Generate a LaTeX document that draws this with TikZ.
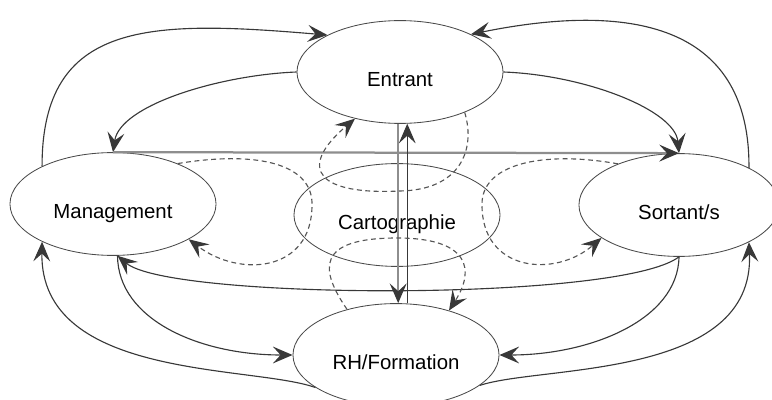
\documentclass[tikz,border=0pt]{standalone}
\usepackage{fontspec}
\setmainfont{Liberation Sans}
\usetikzlibrary{shapes.geometric, arrows.meta}
\definecolor{line-dark}{HTML}{383838}
\definecolor{line-grey}{HTML}{8E8E8E}
\definecolor{rim-grey}{HTML}{4A4A4A}

\begin{document}
\begin{tikzpicture}[x=0.025cm, y=-0.025cm,
        every node/.style={font=\fontsize{14.5}{16}\selectfont},
        bubble/.style={ellipse, draw=rim-grey, line width=0.6pt, fill=white,
            minimum width=5.15cm, minimum height=2.57cm, inner sep=0pt,
            text height=21pt, text depth=0pt},
        flow/.style={draw=line-dark, line width=0.8pt,
            -{Stealth[length=14pt, width=12pt, inset=5.5pt, color=line-dark]}},
        dashflow/.style={flow, draw=line-dark!85, dash pattern=on 3.5pt off 2.5pt},
        bar/.style={flow, draw=line-grey, line width=1.6pt}]
      \useasboundingbox (0,0) rectangle (772,400);
      \clip (0,0) rectangle (772,400);
      \node[bubble] (ENT) at (400,72) {Entrant};
      \node[bubble] (MAN) at (113,204) {Management};
      \node[bubble] (CAR) at (397,215) {Cartographie};
      \node[bubble, minimum width=5cm] (SOR) at (679,205) {Sortant/s};
      \node[bubble] (RH) at (396,355) {RH/Formation};
      \draw[flow] (MAN.152) .. controls (42,20) and (150,20) .. (ENT.153);
      \draw[flow] (SOR.28) .. controls (750,30) and (640,0) .. (ENT.28);
      \draw[flow] (ENT.west) .. controls (220,75) and (120,105) .. (MAN.north);
      \draw[flow] (ENT.east) .. controls (585,75) and (675,110) .. (SOR.north);
      \draw[bar] (MAN.north) -- (SOR.north);
      \draw[flow] (SOR.south) .. controls (620,302) and (170,300) .. (MAN.-85);
      \draw[flow] (MAN.-85) .. controls (118,320) and (200,355) .. (RH.west);
      \draw[flow] (SOR.south) .. controls (678,320) and (590,355) .. (RH.east);
      \draw[flow] (RH.202) .. controls (252,365) and (40,380) .. (MAN.-152);
      \draw[flow] (RH.-20) .. controls (540,365) and (755,380) .. (SOR.-28);
      \draw[bar] (ENT.-92) -- (ENT.-92 |- RH.north);
      \draw[flow] (ENT.-82 |- RH.north) -- (ENT.-82);
      \draw[dashflow] (MAN.32) .. controls (260,150) and (313,165) .. (312,205)
                      .. controls (312,272) and (240,278) .. (MAN.-25);
      \draw[dashflow] (SOR.146) .. controls (540,150) and (481,165) .. (482,205)
                      .. controls (482,272) and (555,278) .. (SOR.203);
      \draw[dashflow] (ENT.-32) .. controls (476,150) and (460,190) .. (400,191)
                      .. controls (320,195) and (295,170) .. (ENT.226);
      \draw[dashflow] (RH.137) .. controls (320,270) and (315,238) .. (397,238)
                      .. controls (470,238) and (475,270) .. (RH.40);
    \end{tikzpicture}
\end{document}
